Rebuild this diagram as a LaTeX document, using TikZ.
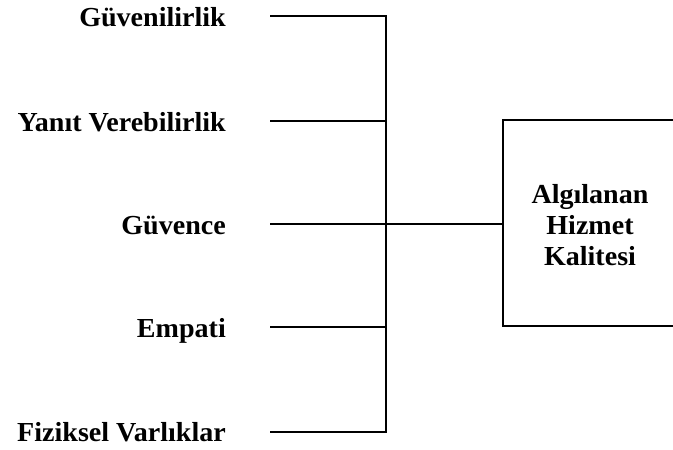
\documentclass[tikz,border=0pt]{standalone}
\usepackage{fontspec}
\setmainfont{Liberation Serif}[FakeStretch=1.02]
\begin{document}
\begin{tikzpicture}[x=1pt,y=1pt,
  conn/.style={line width=1.8pt},
  dimlabel/.style={anchor=base east,font=\bfseries\fontsize{27.5}{32}\selectfont,inner sep=0pt},
  outcome/.style={anchor=base,font=\bfseries\fontsize{27.5}{32}\selectfont,inner sep=0pt}]
\useasboundingbox (0,0) rectangle (673,450);
% dimension labels
\node[dimlabel] (g1) at (226,423.5) {Güvenilirlik};
\node[dimlabel] (g2) at (226,318.5) {Yanıt Verebilirlik};
\node[dimlabel] (g3) at (226,215.5) {Güvence};
\node[dimlabel] (g4) at (226,112.5) {Empati};
\node[dimlabel] (g5) at (226,8.5) {Fiziksel Varlıklar};
% line starts beside each label
\coordinate (s1) at (270,434);
\coordinate (s2) at (270,329);
\coordinate (s3) at (270,226);
\coordinate (s4) at (270,123);
\coordinate (s5) at (270,18);
% collecting bar
\coordinate (b1) at (386,434);
\coordinate (b5) at (386,18);
% outcome box (open on the right)
\coordinate (tl) at (503,330);
\coordinate (bl) at (503,124);
\coordinate (tr) at (673,330);
\coordinate (br) at (673,124);
\coordinate (bin) at (503,226);
\node[outcome] (q1) at (590,246) {Algılanan};
\node[outcome] (q2) at (590,215) {Hizmet};
\node[outcome] (q3) at (590,184) {Kalitesi};
\draw[conn] (s1) -- (b1) -- (b5) -- (s5);
\draw[conn] (s2) -- (s2 -| b1);
\draw[conn] (s4) -- (s4 -| b1);
\draw[conn] (s3) -- (bin);
\draw[conn] (tr) -- (tl) -- (bl) -- (br);
\end{tikzpicture}
\end{document}
